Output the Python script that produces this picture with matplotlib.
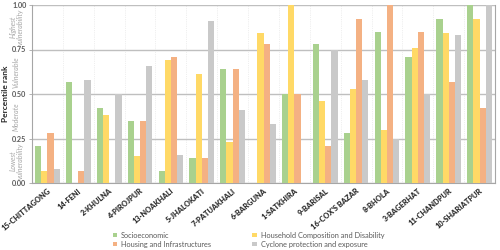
import matplotlib
matplotlib.use("Agg")
import matplotlib.pyplot as plt
import numpy as np

districts = ["15-CHITTAGONG", "14-FENI", "2-KHULNA", "4-PIROJPUR", "13-NOAKHALI",
             "5-JHALOKATI", "7-PATUAKHALI", "6-BARGUNA", "1-SATKHIRA", "9-BARISAL",
             "16-COX'S BAZAR", "8-BHOLA", "3-BAGERHAT", "11-CHANDPUR", "10-SHARIATPUR"]
socioeconomic = [0.21, 0.57, 0.42, 0.35, 0.07, 0.14, 0.64, 0.00, 0.50, 0.78,
                 0.28, 0.85, 0.71, 0.92, 1.00]
household = [0.07, 0.00, 0.38, 0.15, 0.69, 0.61, 0.23, 0.84, 1.00, 0.46,
             0.53, 0.30, 0.76, 0.84, 0.92]
housing = [0.28, 0.07, 0.00, 0.35, 0.71, 0.14, 0.64, 0.78, 0.50, 0.21,
           0.92, 1.00, 0.85, 0.57, 0.42]
cyclone = [0.08, 0.58, 0.50, 0.66, 0.16, 0.91, 0.41, 0.33, 0.00, 0.75,
           0.58, 0.25, 0.50, 0.83, 1.00]

series = [
    ("Socioeconomic", socioeconomic, "#A9D18E"),
    ("Household Composition and Disability", household, "#FFD966"),
    ("Housing and Infrastructures", housing, "#F4B183"),
    ("Cyclone protection and exposure", cyclone, "#C9C9C9"),
]
zones = [(0.125, "Lowest\nvulnerability"), (0.375, "Moderate"),
         (0.625, "Vulnerable"), (0.875, "Highest\nvulnerability")]

plt.rcParams["font.family"] = ["Lato", "DejaVu Sans"]

fig = plt.figure(figsize=(5, 2.5), dpi=100)
ax = fig.add_axes([0.064, 0.268, 0.926, 0.712])

x = np.arange(len(districts))
w = 0.2
handles = {}
for k, (name, vals, color) in enumerate(series):
    handles[name] = ax.bar(x + (k - 1.5) * w, vals, w, color=color, label=name, zorder=3)

for i in range(len(districts) - 1):
    ax.axvline(i + 0.5, color="#E0E0E0", lw=0.5, ls=":", zorder=1)

ax.set_xlim(-0.5, len(districts) - 0.5)
ax.set_ylim(0, 1)
ax.set_yticks([0, 0.25, 0.5, 0.75, 1.0])
ax.set_yticklabels(["0.00", "0.25", "0.50", "0.75", "1.00"],
                   fontsize=5.2, color="#595959", fontweight="bold")
ax.grid(axis="y", color="#BFBFBF", lw=1.0, zorder=0)
ax.set_xticks(x)
ax.set_xticklabels(districts, rotation=40, ha="right", rotation_mode="anchor",
                   fontsize=5.3, fontweight="heavy", color="#333333")
ax.tick_params(axis="x", length=0, pad=3)
ax.tick_params(axis="y", length=2, width=0.6, color="#A6A6A6", pad=2)
for s in ax.spines.values():
    s.set_color("#A6A6A6")
    s.set_linewidth(0.8)
ax.spines["top"].set_visible(False)

ax.set_ylabel("Percentile rank", fontsize=6, fontweight="bold", color="#262626")
ax.yaxis.set_label_coords(-0.05, 0.5)
for y, txt in zones:
    ax.text(-0.034, y, txt, transform=ax.transAxes, rotation=90, ha="center",
            va="center", fontsize=5, style="italic", color="#A6A6A6",
            linespacing=1.0)

order = ["Socioeconomic", "Housing and Infrastructures",
         "Household Composition and Disability", "Cyclone protection and exposure"]
fig.legend([handles[n] for n in order], order, loc="upper left",
           bbox_to_anchor=(0.226, 0.073), ncol=2, frameon=False,
           fontsize=5.3, handlelength=0.6, handleheight=0.6, columnspacing=5.6,
           labelspacing=0.25, handletextpad=0.5, borderpad=0, borderaxespad=0,
           labelcolor="#595959")

fig.savefig("out.png", dpi=100)
